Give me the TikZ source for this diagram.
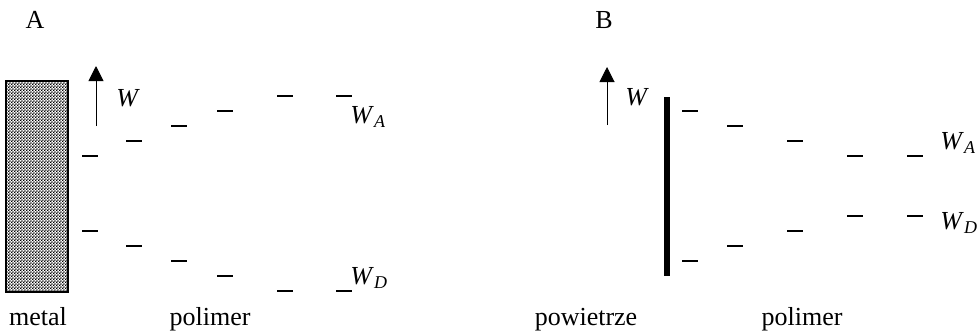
\documentclass[tikz,border=0pt]{standalone}
\usepackage{fontspec}
\setmainfont{Liberation Serif}
\usetikzlibrary{arrows.meta,patterns}
\pgfdeclarepatternformonly{ajedrez}{\pgfpointorigin}{\pgfqpoint{1.4pt}{1.4pt}}{\pgfqpoint{1.4pt}{1.4pt}}{%
  \pgfpathrectangle{\pgfpointorigin}{\pgfqpoint{0.7pt}{0.7pt}}%
  \pgfpathrectangle{\pgfqpoint{0.7pt}{0.7pt}}{\pgfqpoint{0.7pt}{0.7pt}}%
  \pgfusepath{fill}}
\newcommand{\nivelW}[1]{\textit{W}\raisebox{-0.35ex}{\fontsize{9}{10}\selectfont\textit{#1}}}
\tikzset{
  nivel/.style={line width=0.7pt},
  etiqueta/.style={font=\fontsize{13}{15}\selectfont, inner sep=0pt},
  flechaW/.style={-{Triangle[length=7.5pt, width=7.5pt]}, line width=0.5pt},
}

\begin{document}
\begin{tikzpicture}[x=0.5pt, y=-0.5pt]
    \useasboundingbox (0,0) rectangle (978,334);
    % --- A: metal / polimer
    \node[etiqueta] (tA) at (35,20) {A};
    \draw[pattern=ajedrez, line width=0.7pt] (6,81) rectangle (68,292);
    \coordinate (wA0) at (96,126);
    \coordinate (wA1) at (96,66);
    \draw[flechaW] (wA0) -- (wA1);
    \node[etiqueta, anchor=base west] (wA) at (116,106) {\textit{W}};
    \foreach \x/\y in {82/156,126/141,171/126,217/111,277/96,336/96}
      {\draw[nivel] (\x,\y) -- ++(16,0);}
    \foreach \x/\y in {82/231,126/246,171/261,217/276,277/291,336/291}
      {\draw[nivel] (\x,\y) -- ++(16,0);}
    \node[etiqueta, anchor=base west] (waA) at (350,123) {\nivelW{A}};
    \node[etiqueta, anchor=base west] (wdA) at (350,284) {\nivelW{D}};
    \node[etiqueta, anchor=base] (metal) at (38,325) {metal};
    \node[etiqueta, anchor=base] (polA) at (210,325) {polimer};
    % --- B: powietrze / polimer
    \node[etiqueta] (tB) at (604,20) {B};
    \coordinate (wB0) at (607,125);
    \coordinate (wB1) at (607,67);
    \draw[flechaW] (wB0) -- (wB1);
    \node[etiqueta, anchor=base west] (wB) at (625,105) {\textit{W}};
    \draw[line width=3pt] (667,97) -- (667,276);
    \foreach \x/\y in {682/111,727/126,787/141,847/156,907/156}
      {\draw[nivel] (\x,\y) -- ++(16,0);}
    \foreach \x/\y in {682/261,727/246,787/231,847/216,907/216}
      {\draw[nivel] (\x,\y) -- ++(16,0);}
    \node[etiqueta, anchor=base west] (waB) at (940,149) {\nivelW{A}};
    \node[etiqueta, anchor=base west] (wdB) at (940,229) {\nivelW{D}};
    \node[etiqueta, anchor=base] (pow) at (586,325) {powietrze};
    \node[etiqueta, anchor=base] (polB) at (802,325) {polimer};
  \end{tikzpicture}
\end{document}
